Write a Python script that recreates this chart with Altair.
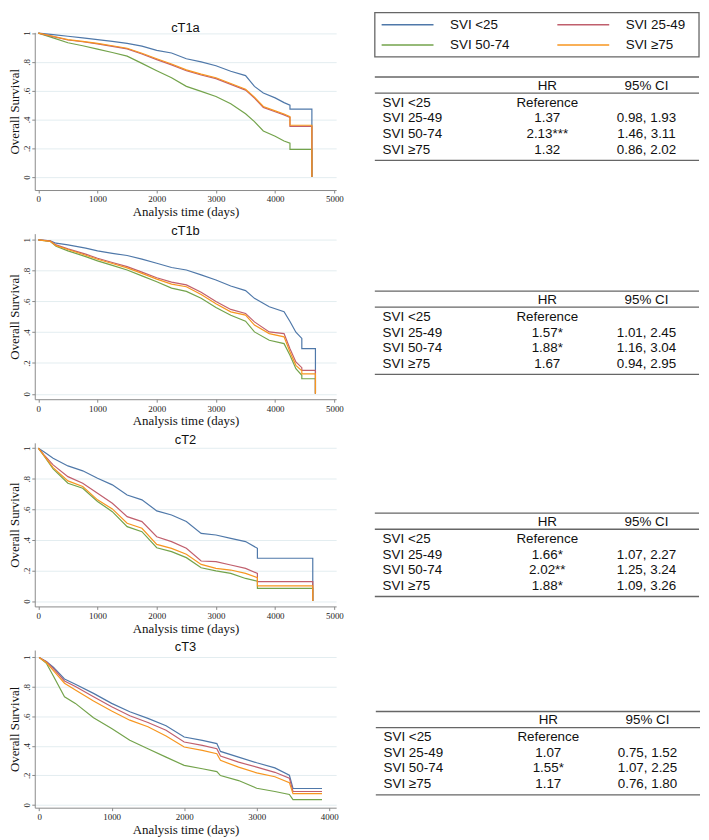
import altair as alt
import pandas as pd

GROUPS = ["SVI <25", "SVI 25-49", "SVI 50-74", "SVI ≥75"]
COLORS = ["#4f78a9", "#c05f6d", "#73a34b", "#f7961f"]
DRAW_ORDER = ["SVI <25", "SVI 50-74", "SVI 25-49", "SVI ≥75"]

# ---- cT1a survival curves ----
CT1A_T = [0, 250, 500, 750, 1000, 1250, 1500, 1750, 2000, 2250, 2500, 2750, 3000, 3250,
          3500, 3650, 3800, 4000, 4150, 4250, 4250, 4620, 4620]
CT1A_LT25 = [1, .99, .978, .967, .955, .943, .929, .91, .88, .862, .822, .80, .773, .735,
             .705, .63, .584, .55, .517, .50, .472, .472, 0]
CT1A_2549 = [1, .976, .952, .94, .925, .908, .89, .855, .816, .779, .739, .709, .684, .644,
             .604, .549, .484, .454, .432, .414, .352, .352, 0]
CT1A_5074 = [1, .967, .933, .912, .889, .865, .84, .79, .739, .69, .63, .595, .56, .51,
             .44, .385, .32, .283, .25, .235, .193, .193, 0]
CT1A_GE75 = [1, .978, .955, .943, .929, .912, .895, .86, .822, .785, .745, .715, .69, .65,
             .61, .555, .49, .46, .438, .42, .36, .36, 0]

# ---- cT1b survival curves ----
CT1B_T = [0, 200, 300, 500, 800, 1000, 1250, 1500, 1750, 2000, 2250, 2500, 2750, 3000,
          3250, 3500, 3650, 3900, 4150, 4250, 4350, 4450, 4450, 4680, 4680]
CT1B_LT25 = [1, .993, .978, .967, .946, .928, .912, .898, .875, .848, .82, .804, .772, .739,
             .70, .67, .62, .565, .533, .47, .40, .36, .293, .293, 0]
CT1B_2549 = [1, .993, .967, .941, .907, .88, .853, .826, .79, .754, .725, .707, .66, .60,
             .548, .522, .467, .402, .391, .293, .207, .17, .152, .152, 0]
CT1B_5074 = [1, .99, .958, .928, .891, .863, .834, .804, .766, .728, .686, .665, .62, .56,
             .51, .472, .402, .348, .326, .25, .163, .12, .098, .098, 0]
CT1B_GE75 = [1, .99, .962, .937, .90, .874, .846, .818, .782, .745, .712, .695, .645, .585,
             .532, .511, .446, .391, .37, .272, .185, .15, .13, .13, 0]

# ---- cT2 survival curves ----
CT2_T = [0, 100, 250, 500, 750, 1000, 1250, 1500, 1750, 2000, 2250, 2500, 2750, 3000,
         3250, 3500, 3700, 3700, 4635, 4635]
CT2_LT25 = [1, .975, .934, .884, .852, .803, .76, .694, .662, .59, .563, .52, .443, .432,
            .41, .389, .345, .28, .28, 0]
CT2_2549 = [1, .955, .891, .814, .771, .705, .64, .552, .52, .421, .389, .345, .262, .258,
            .236, .214, .181, .127, .127, 0]
CT2_5074 = [1, .948, .865, .771, .738, .651, .585, .487, .454, .349, .323, .284, .218, .197,
            .181, .148, .13, .083, .083, 0]
CT2_GE75 = [1, .95, .873, .786, .749, .662, .603, .509, .476, .371, .345, .306, .24, .214,
            .203, .181, .153, .10, .10, 0]

# ---- cT3 survival curves ----
CT3_T = [0, 100, 200, 350, 500, 750, 1000, 1250, 1500, 1750, 2000, 2250, 2450, 2500,
         2750, 3000, 3250, 3450, 3500, 3900]
CT3_LT25 = [1, .973, .932, .854, .818, .756, .688, .631, .586, .536, .46, .437, .415, .362,
            .323, .285, .25, .20, .11, .11]
CT3_2549 = [1, .97, .923, .84, .802, .733, .665, .604, .558, .506, .426, .403, .38, .33,
            .289, .255, .22, .18, .09, .09]
CT3_5074 = [1, .96, .87, .733, .688, .59, .517, .437, .38, .323, .267, .244, .225, .198,
            .164, .112, .09, .07, .035, .035]
CT3_GE75 = [1, .965, .909, .825, .779, .704, .636, .574, .529, .467, .392, .369, .346, .301,
            .255, .216, .19, .15, .075, .075]

# ---- hazard ratio tables ----
ROW_LABELS = ["SVI <25", "SVI 25-49", "SVI 50-74", "SVI ≥75"]
CT1A_HR = ["Reference", "1.37", "2.13***", "1.32"]
CT1A_CI = ["", "0.98, 1.93", "1.46, 3.11", "0.86, 2.02"]
CT1B_HR = ["Reference", "1.57*", "1.88*", "1.67"]
CT1B_CI = ["", "1.01, 2.45", "1.16, 3.04", "0.94, 2.95"]
CT2_HR = ["Reference", "1.66*", "2.02**", "1.88*"]
CT2_CI = ["", "1.07, 2.27", "1.25, 3.24", "1.09, 3.26"]
CT3_HR = ["Reference", "1.07", "1.55*", "1.17"]
CT3_CI = ["", "0.75, 1.52", "1.07, 2.25", "0.76, 1.80"]

SERIF = "Liberation Serif"
SANS = "Liberation Sans"
KM_W = 304
TAB_W = 327
PITCH = 15.7
FS = 13.5

color_scale = alt.Scale(domain=GROUPS, range=COLORS)


def y_label_expr():
    return ("datum.value == 0 ? '0' : datum.value == 1 ? '1' : "
            "replace(format(datum.value, '.1f'), '0.', '.')")


def km_chart(title, times, series, xdom, xmax_tick, ydom, h):
    rows = []
    for g, s in zip(GROUPS, series):
        for i, (t, v) in enumerate(zip(times, s)):
            rows.append({"t": t, "s": v, "g": g, "i": i})
    df = pd.DataFrame(rows)
    xenc = alt.X("t:Q", scale=alt.Scale(domain=xdom, nice=False, zero=False),
                 axis=alt.Axis(values=list(range(0, xmax_tick + 1, 1000)), format="d",
                               title="Analysis time (days)", grid=False,
                               labelFont=SERIF, labelFontSize=9, labelColor="#222",
                               titleFont=SERIF, titleFontSize=13, titleFontWeight="normal",
                               titleColor="#111", titlePadding=2, tickSize=3,
                               tickColor="#888", domainColor="#8a8a8a", labelPadding=2))
    yenc = alt.Y("s:Q", scale=alt.Scale(domain=ydom, nice=False, zero=False),
                 axis=alt.Axis(values=[0, 0.2, 0.4, 0.6, 0.8, 1], labelExpr=y_label_expr(),
                               labelAngle=270, labelAlign="center", labelBaseline="bottom",
                               title="Overall Survival", grid=True, gridColor="#e3edf0",
                               labelFont=SERIF, labelFontSize=9, labelColor="#222",
                               titleFont=SERIF, titleFontSize=13, titleFontWeight="normal",
                               titleColor="#111", titlePadding=1, tickSize=3,
                               tickColor="#888", domainColor="#8a8a8a", labelPadding=0))
    base = alt.Chart(df)
    layers = []
    for g in DRAW_ORDER:
        layers.append(
            base.transform_filter(alt.datum.g == g)
            .mark_line(strokeWidth=1.2, interpolate="linear")
            .encode(x=xenc, y=yenc,
                    color=alt.Color("g:N", scale=color_scale, legend=None),
                    order="i:Q")
        )
    return alt.layer(*layers).properties(
        width=KM_W, height=h,
        title=alt.TitleParams(title, font=SANS, fontSize=13, fontWeight="normal",
                              color="#111", offset=-4, anchor="middle"))


def table_chart(hr, ci, top_px, h, legend=False):
    u0 = -top_px / PITCH
    ysc = alt.Scale(domain=[u0, u0 + h / PITCH], reverse=True, nice=False, zero=False)
    xsc = alt.Scale(domain=[0, 1], nice=False, zero=False)
    cells = []
    for i in range(4):
        cells.append({"x": 0.024, "y": 1.66 + i, "txt": ROW_LABELS[i], "a": "l"})
        cells.append({"x": 0.532, "y": 1.66 + i, "txt": hr[i], "a": "c"})
        cells.append({"x": 0.838, "y": 1.66 + i, "txt": ci[i], "a": "c"})
    cells.append({"x": 0.532, "y": 0.57, "txt": "HR", "a": "c"})
    cells.append({"x": 0.838, "y": 0.57, "txt": "95% CI", "a": "c"})
    cdf = pd.DataFrame(cells)
    rdf = pd.DataFrame({"x": [0, 0, 0], "x2": [1, 1, 1], "y": [0, 1.03, 5.35]})
    layers = []
    tb = alt.Chart(cdf)
    layers.append(tb.transform_filter(alt.datum.a == "l").mark_text(
        align="left", baseline="middle", font=SANS, fontSize=FS, color="#111").encode(
        x=alt.X("x:Q", scale=xsc, axis=None), y=alt.Y("y:Q", scale=ysc, axis=None),
        text="txt:N"))
    layers.append(tb.transform_filter(alt.datum.a == "c").mark_text(
        align="center", baseline="middle", font=SANS, fontSize=FS, color="#111").encode(
        x=alt.X("x:Q", scale=xsc, axis=None), y=alt.Y("y:Q", scale=ysc, axis=None),
        text="txt:N"))
    layers.append(alt.Chart(rdf).mark_rule(color="#666", strokeWidth=1.3).encode(
        x=alt.X("x:Q", scale=xsc, axis=None), x2="x2:Q",
        y=alt.Y("y:Q", scale=ysc, axis=None)))
    if legend:
        box = pd.DataFrame({"x": [0], "x2": [1], "y": [-4.13], "y2": [-1.29]})
        layers.append(alt.Chart(box).mark_rect(fillOpacity=0, stroke="#666",
                                               strokeWidth=1.3).encode(
            x=alt.X("x:Q", scale=xsc, axis=None), x2="x2:Q",
            y=alt.Y("y:Q", scale=ysc, axis=None), y2="y2:Q"))
        lx = [0.021, 0.563, 0.021, 0.563]
        ly = [-3.35, -3.35, -2.06, -2.06]
        ldf = pd.DataFrame({"g": GROUPS, "x": lx, "x2": [v + 0.16 for v in lx],
                            "tx": [v + 0.211 for v in lx], "y": ly})
        layers.append(alt.Chart(ldf).mark_rule(strokeWidth=1.5).encode(
            x=alt.X("x:Q", scale=xsc, axis=None), x2="x2:Q",
            y=alt.Y("y:Q", scale=ysc, axis=None),
            color=alt.Color("g:N", scale=color_scale, legend=None)))
        layers.append(alt.Chart(ldf).mark_text(
            align="left", baseline="middle", font=SANS, fontSize=FS, color="#111").encode(
            x=alt.X("tx:Q", scale=xsc, axis=None), y=alt.Y("y:Q", scale=ysc, axis=None),
            text="g:N"))
    return alt.layer(*layers).properties(width=TAB_W, height=h)


rows = []
specs = [
    ("cT1a", CT1A_T, [CT1A_LT25, CT1A_2549, CT1A_5074, CT1A_GE75], [-60, 5030], 5000,
     [-0.09, 1.005], 159, CT1A_HR, CT1A_CI, 45, True, 30),
    ("cT1b", CT1B_T, [CT1B_LT25, CT1B_2549, CT1B_5074, CT1B_GE75], [-60, 5030], 5000,
     [-0.035, 1.04], 167, CT1B_HR, CT1B_CI, 58, False, 30),
    ("cT2", CT2_T, [CT2_LT25, CT2_2549, CT2_5074, CT2_GE75], [-60, 5030], 5000,
     [-0.035, 1.035], 165, CT2_HR, CT2_CI, 71, False, 30),
    ("cT3", CT3_T, [CT3_LT25, CT3_2549, CT3_5074, CT3_GE75], [-60, 4095], 4000,
     [-0.02, 1.05], 159, CT3_HR, CT3_CI, 62, False, 36),
]
for (title, times, series, xdom, xmt, ydom, h, hr, ci, top, leg, sp) in specs:
    km = km_chart(title, times, series, xdom, xmt, ydom, h)
    tab = table_chart(hr, ci, top, h, legend=leg)
    rows.append(alt.hconcat(km, tab, spacing=sp))

chart = alt.vconcat(*rows, spacing=6).properties(
    padding={"left": 0, "top": 0, "right": 0, "bottom": 0}
).configure_view(strokeWidth=0)

chart.save("out.html", embed_options={"renderer": "svg", "actions": False})
